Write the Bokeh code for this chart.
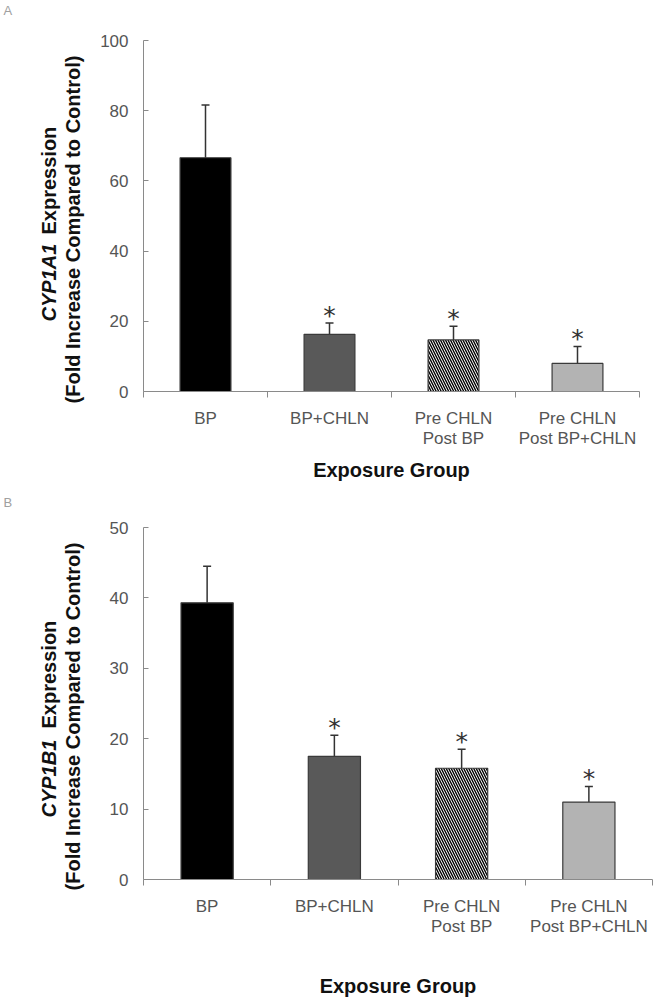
import math
from bokeh.plotting import figure
from bokeh.models import Range1d, FixedTicker, Whisker, TeeHead, ColumnDataSource
from bokeh.layouts import column, row
from bokeh.embed import file_html
from bokeh.resources import INLINE
from bokeh.core.properties import value

# ---------------- data ----------------
categories = ["BP", "BP+CHLN", "Pre CHLN\nPost BP", "Pre CHLN\nPost BP+CHLN"]
cyp1a1_mean = [66.6, 16.3, 14.7, 8.0]
cyp1a1_err = [15.0, 3.2, 3.9, 4.8]
cyp1b1_mean = [39.3, 17.5, 15.8, 11.0]
cyp1b1_err = [5.2, 3.0, 2.7, 2.2]
significant = [False, True, True, True]
yticks_a = [0, 20, 40, 60, 80, 100]
yticks_b = [0, 10, 20, 30, 40, 50]

# ---------------- style ----------------
bar_fill = ["#000000", "#595959", "#ffffff", "#b3b3b3"]
bar_hatch = [" ", " ", "left_diagonal_line", " "]
AXIS_COLOR = "#8a8a8a"
TICK_TEXT = "#555555"
FONT = "Liberation Sans"
TITLE_W = 96


def make_title(height, letter, gene, gene_y, expr_y, line2_y):
    """Narrow figure (pixel ranges) holding the rotated y title and panel letter."""
    f = figure(width=TITLE_W, height=height, x_range=Range1d(0, TITLE_W),
               y_range=Range1d(0, height), output_backend="svg",
               toolbar_location=None, min_border=0,
               x_axis_location=None, y_axis_location=None)
    f.outline_line_color = None
    f.xgrid.visible = False
    f.ygrid.visible = False
    rot = dict(angle=math.pi / 2, text_font=value(FONT), text_font_size="20px",
               text_color="#111111", text_baseline="middle")
    f.text(x=[48], y=[gene_y], text=[gene], text_align="left",
           text_font_style="bold italic", **rot)
    f.text(x=[48], y=[expr_y], text=["Expression"], text_align="left",
           text_font_style="bold", **rot)
    f.text(x=[72], y=[line2_y], text=["(Fold Increase Compared to Control)"],
           text_align="center", text_font_style="bold", **rot)
    f.text(x=[3], y=[height - 2], text=[letter], text_font=value(FONT),
           text_font_size="13px", text_color="#a0a0a0", text_align="left",
           text_baseline="top")
    return f


def make_panel(mean, err, yticks, width, height, top, bottom, left, right,
               tick_standoff, xlabel_standoff):
    xs = [i + 0.5 for i in range(len(categories))]
    src = ColumnDataSource(dict(x=xs, top=mean, upper=[m + e for m, e in zip(mean, err)],
                                fill=bar_fill, hatch=bar_hatch))
    p = figure(width=width, height=height,
               x_range=Range1d(0, len(categories)),
               y_range=Range1d(yticks[0], yticks[-1]),
               output_backend="svg", toolbar_location=None,
               min_border_left=left, min_border_right=right,
               min_border_top=top, min_border_bottom=bottom)
    p.outline_line_color = None
    p.xgrid.visible = False
    p.ygrid.visible = False

    p.vbar(x="x", top="top", width=0.41, bottom=0, source=src,
           fill_color="fill", line_color="#3a3a3a", line_width=1.2,
           hatch_pattern="hatch", hatch_color="black", hatch_scale=5,
           hatch_weight=1.4)

    wh = Whisker(base="x", lower="top", upper="upper", source=src,
                 line_color="#333333", line_width=1.5, lower_head=None,
                 upper_head=TeeHead(size=8, line_color="#333333", line_width=1.5))
    p.add_layout(wh)

    sx = [x for x, s in zip(xs, significant) if s]
    sy = [m + e for m, e, s in zip(mean, err, significant) if s]
    p.text(x=sx, y=sy, text=["*"] * len(sx), text_font=value("DejaVu Sans"),
           text_font_size="25px", text_align="center", text_baseline="alphabetic",
           y_offset=-8, text_color="#333333")

    ya = p.yaxis[0]
    ya.ticker = FixedTicker(ticks=yticks, minor_ticks=[])
    ya.axis_line_color = AXIS_COLOR
    ya.major_tick_line_color = AXIS_COLOR
    ya.major_tick_in = 5
    ya.major_tick_out = 0
    ya.minor_tick_line_color = None
    ya.major_label_text_font = FONT
    ya.major_label_text_font_size = "17px"
    ya.major_label_text_color = TICK_TEXT
    ya.major_label_standoff = 15

    xa = p.xaxis[0]
    xa.ticker = FixedTicker(ticks=xs, minor_ticks=list(range(len(categories) + 1)))
    xa.major_label_overrides = {x: c for x, c in zip(xs, categories)}
    xa.axis_line_color = AXIS_COLOR
    xa.major_tick_line_color = None
    xa.minor_tick_line_color = AXIS_COLOR
    xa.minor_tick_in = 0
    xa.minor_tick_out = 6
    xa.major_tick_out = 0
    xa.major_tick_in = 0
    xa.major_label_text_font = FONT
    xa.major_label_text_font_size = "17px"
    xa.major_label_text_color = TICK_TEXT
    xa.major_label_text_line_height = 1.1
    xa.major_label_standoff = tick_standoff
    xa.axis_label = "Exposure Group"
    xa.axis_label_text_font = FONT
    xa.axis_label_text_font_style = "bold"
    xa.axis_label_text_font_size = "20px"
    xa.axis_label_text_color = "#111111"
    xa.axis_label_standoff = xlabel_standoff
    return p


pA = make_panel(cyp1a1_mean, cyp1a1_err, yticks_a, width=558, height=492,
                top=40, bottom=101, left=47, right=15, tick_standoff=11, xlabel_standoff=8)
tA = make_title(492, "A", "CYP1A1", gene_y=171, expr_y=258, line2_y=263)

pB = make_panel(cyp1b1_mean, cyp1b1_err, yticks_b, width=558, height=512,
                top=35, bottom=125, left=47, right=2, tick_standoff=11, xlabel_standoff=36)
tB = make_title(512, "B", "CYP1B1", gene_y=187, expr_y=276, line2_y=288)

layout = column(row(column(tA), pA, spacing=0), row(column(tB), pB, spacing=0), spacing=0)
open("out.html", "w").write(file_html(layout, INLINE))
